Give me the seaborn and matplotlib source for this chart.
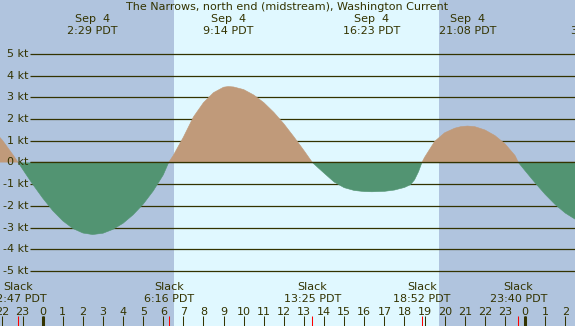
import numpy as np
import pandas as pd
import matplotlib
matplotlib.use('Agg')
from matplotlib import pyplot as plt
import seaborn as sns

## current speed, hours from midnight Sep 4 (negative = Sep 3)
hours = [-2.5, -2.0, -1.5, -1.217, -1.0, -0.5, 0.0, 0.5, 1.0, 1.5, 2.0, 2.483,
         3.0, 3.5, 4.0, 4.5, 5.0, 5.5, 6.0, 6.267,
         6.5, 7.0, 7.5, 8.0, 8.5, 9.0, 9.233, 9.5, 10.0, 10.5, 11.0, 11.5,
         12.0, 12.5, 13.0, 13.417,
         13.7, 14.0, 14.5, 15.0, 15.5, 16.0, 16.383, 17.0, 17.5, 18.0, 18.3, 18.5, 18.7, 18.867,
         19.0, 19.5, 20.0, 20.5, 20.8, 21.133, 21.5, 22.0, 22.5, 23.0, 23.5, 23.667,
         24.0, 24.5, 25.0, 25.5, 26.0, 26.5, 27.0]
knots = [1.54, 1.02, 0.38, 0.0, -0.31, -1.00, -1.64, -2.22, -2.69, -3.04, -3.25, -3.32,
         -3.26, -3.08, -2.80, -2.41, -1.92, -1.31, -0.57, 0.0,
         0.33, 1.17, 2.10, 2.76, 3.22, 3.47, 3.50, 3.48, 3.36, 3.11, 2.76, 2.31,
         1.78, 1.18, 0.55, 0.0,
         -0.24, -0.49, -0.90, -1.16, -1.29, -1.34, -1.35, -1.33, -1.27, -1.15, -1.02, -0.80, -0.42, 0.0,
         0.24, 0.97, 1.37, 1.58, 1.65, 1.68, 1.65, 1.50, 1.24, 0.86, 0.32, 0.0,
         -0.38, -0.94, -1.47, -1.94, -2.33, -2.62, -2.82]

## max flood / max ebb labels along the top
peak_hours = [2.483, 9.233, 16.383, 21.133, 27.53]
peak_dates = ['Sep  4', 'Sep  4', 'Sep  4', 'Sep  4', 'Sep  5']
peak_times = ['2:29 PDT', '9:14 PDT', '16:23 PDT', '21:08 PDT', '3:32 PDT']

## slack water labels along the bottom
slack_hours = [-1.217, 6.267, 13.417, 18.867, 23.667]
slack_times = ['22:47 PDT', '6:16 PDT', '13:25 PDT', '18:52 PDT', '23:40 PDT']

sunrise, sunset = 6.53, 19.72
kt_levels = list(range(5, -6, -1))
hour_ticks = list(range(-2, 27))
midnights = [0, 24]

title = 'The Narrows, north end (midstream), Washington Current'

night = '#B0C4DE'
day = '#E0F8FF'
flood = '#C09A7A'
ebb = '#529472'
ink = '#333300'

sns.set_style('white')
plt.rcParams['font.family'] = ['DejaVu Sans']

fig = plt.figure(figsize=(5.75, 3.26), dpi=100)
ax = fig.add_axes([0, 0, 1, 1])
x0, x1 = -2.124, 26.483
y0, y1 = -7.535, 7.488
ax.set_xlim(x0, x1)
ax.set_ylim(y0, y1)
ax.set_facecolor(night)
for s in ax.spines.values():
    s.set_visible(False)
ax.set_xticks([])
ax.set_yticks([])

ax.axvspan(sunrise, sunset, color=day, lw=0, zorder=0)

## knot grid lines + labels
ax.hlines(kt_levels, -0.632, x1, color=ink, lw=0.9, zorder=1)
for k in kt_levels:
    ax.text(-0.73, k, '%d kt' % k, ha='right', va='center', fontsize=8, color=ink)

## the current curve
h = np.array(hours)
v = np.array(knots)
ax.fill_between(h, v, 0, where=v >= 0, interpolate=True, color=flood, lw=0, zorder=2)
ax.fill_between(h, v, 0, where=v <= 0, interpolate=True, color=ebb, lw=0, zorder=2)

## outline each flood/ebb run in its own colour (split at slack points)
rows = []
seg = 0
for i in range(len(h)):
    rows.append((h[i], v[i], seg))
    if v[i] == 0 and 0 < i < len(h) - 1:
        seg += 1
        rows.append((h[i], v[i], seg))
df = pd.DataFrame(rows, columns=['hour', 'kt', 'seg'])
df['tide'] = df.groupby('seg')['kt'].transform(lambda s: 'flood' if s.sum() > 0 else 'ebb')
sns.lineplot(data=df, x='hour', y='kt', hue='tide', units='seg', estimator=None,
             palette={'flood': flood, 'ebb': ebb}, lw=0.4, legend=False, ax=ax, zorder=2)
ax.set_xlabel('')
ax.set_ylabel('')

ax.hlines(0, -0.632, x1, color=ink, lw=0.9, zorder=3)

## top labels
ax.text((x0 + x1) / 2, 7.17, title, ha='center', va='center', fontsize=8, color=ink)
for ph, pd_, pt in zip(peak_hours, peak_dates, peak_times):
    ax.text(ph, 6.60, pd_, ha='center', va='center', fontsize=8, color=ink)
    ax.text(ph, 6.06, pt, ha='center', va='center', fontsize=8, color=ink)

## bottom labels
for sh, st in zip(slack_hours, slack_times):
    ax.text(sh, -5.75, 'Slack', ha='center', va='center', fontsize=8, color=ink)
    ax.text(sh, -6.30, st, ha='center', va='center', fontsize=8, color=ink)

for hr in hour_ticks:
    ax.text(hr, -6.88, str(hr % 24), ha='center', va='center', fontsize=8, color=ink)
ax.vlines(hour_ticks, y0, -7.07, color=ink, lw=0.75)
ax.vlines(midnights, y0, -7.07, color=ink, lw=2.2)
ax.vlines(slack_hours, y0, -7.07, color='red', lw=0.75)

plt.savefig('out.png', dpi=100)
